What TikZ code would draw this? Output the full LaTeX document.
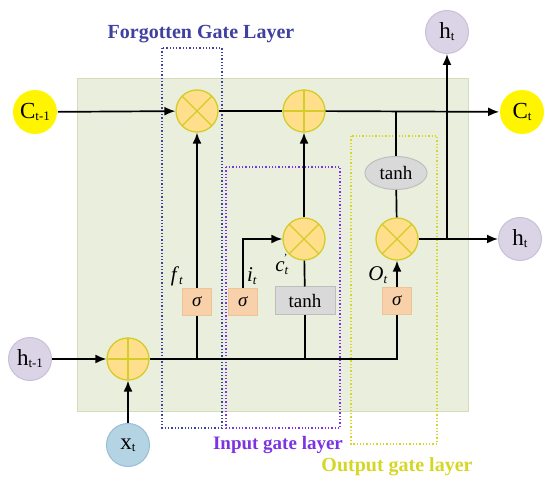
\documentclass[tikz,border=0pt]{standalone}
\usepackage{fontspec}
\setmainfont{Liberation Serif}
\usetikzlibrary{arrows.meta,positioning,shapes.geometric}
\definecolor{gatefill}{RGB}{255,222,140}
\definecolor{gateline}{RGB}{212,204,40}
\definecolor{cellfill}{RGB}{255,245,0}
\definecolor{hfill}{RGB}{218,212,230}
\definecolor{hline}{RGB}{200,192,216}
\definecolor{xfill}{RGB}{180,212,228}
\definecolor{xline}{RGB}{150,190,214}
\definecolor{bgfill}{RGB}{233,238,221}
\definecolor{bgline}{RGB}{212,220,186}
\definecolor{sigfill}{RGB}{248,208,170}
\definecolor{sigline}{RGB}{236,196,150}
\definecolor{tanhfill}{RGB}{217,217,217}
\definecolor{tanhline}{RGB}{190,190,190}
\definecolor{forgetcol}{RGB}{64,64,160}
\definecolor{inputcol}{RGB}{124,52,226}
\definecolor{outputcol}{RGB}{214,214,40}
\newcommand{\lowidx}[1]{\raisebox{-2pt}{\fontsize{13}{13}\selectfont #1}}
\newcommand{\gatelbl}[2]{\textit{#1}\raisebox{-3pt}{\fontsize{13}{13}\selectfont\textit{#2}}}

\begin{document}
\begin{tikzpicture}[x=1pt, y=-1pt, >={Latex[length=11pt,width=9pt]}, line width=1.7pt,
	mult/.style={circle, draw=gateline, fill=gatefill, line width=1.3pt, minimum size=42pt, inner sep=0pt,
		path picture={\draw[gateline, line width=1.3pt] (path picture bounding box.north west) -- (path picture bounding box.south east)
			(path picture bounding box.north east) -- (path picture bounding box.south west);}},
	plus/.style={circle, draw=gateline, fill=gatefill, line width=1.3pt, minimum size=42pt, inner sep=0pt,
		path picture={\draw[gateline, line width=1.3pt] (path picture bounding box.north) -- (path picture bounding box.south)
			(path picture bounding box.west) -- (path picture bounding box.east);}},
	cellnode/.style={circle, fill=cellfill, minimum size=44pt, inner sep=0pt, font=\fontsize{23}{23}\selectfont},
	hnode/.style={circle, draw=hline, fill=hfill, line width=1pt, minimum size=43pt, inner sep=0pt, font=\fontsize{23}{23}\selectfont},
	xnode/.style={circle, draw=xline, fill=xfill, line width=1pt, minimum size=43pt, inner sep=0pt, font=\fontsize{23}{23}\selectfont},
	sigbox/.style={rectangle, draw=sigline, fill=sigfill, line width=1pt, minimum width=29pt, minimum height=27pt, inner sep=0pt, font=\fontsize{19}{19}\selectfont},
	tanhbox/.style={rectangle, draw=tanhline, fill=tanhfill, line width=1pt, minimum width=60pt, minimum height=28pt, inner sep=0pt, font=\fontsize{19}{19}\selectfont},
	tanhell/.style={ellipse, draw=tanhline, fill=tanhfill, line width=1pt, minimum width=62pt, minimum height=33pt, inner sep=0pt, font=\fontsize{19}{19}\selectfont},
	layerbox/.style={dotted, line width=1.3pt},
	lbl/.style={font=\fontsize{21}{21}\selectfont, inner sep=1pt}]
		\useasboundingbox (0,0) rectangle (550,484);
		\fill[bgfill] (77,79) rectangle (468,412);
		\draw[bgline, line width=1pt] (77,79) rectangle (468,412);
		
		% layer frames
		\draw[layerbox, forgetcol] (162,48) rectangle (222,428);
		\draw[layerbox, inputcol] (226,167) rectangle (340,428);
		\draw[layerbox, outputcol] (351,136) rectangle (437,444);
		\node (ftitle) at (201,34) {\fontsize{20}{20}\selectfont\bfseries\textcolor{forgetcol}{Forgotten Gate Layer}};
		\node (ititle) at (278,445) {\fontsize{19}{19}\selectfont\bfseries\textcolor{inputcol}{Input gate layer}};
		\node (otitle) at (397,467) {\fontsize{20}{20}\selectfont\bfseries\textcolor{outputcol}{Output gate layer}};
		
		% cell state line
		\node[cellnode] (cprev) at (35,112) {C\lowidx{t-1}};
		\node[mult] (fgate) at (197,111) {};
		\node[plus] (agate) at (304,111) {};
		\node[cellnode] (cnext) at (522,112) {C\lowidx{t}};
		\node[hnode] (htop) at (447,32) {h\lowidx{t}};
		
		% output part
		\node[tanhell] (tanhc) at (396,173) {tanh};
		\node[mult] (ogate) at (397,239) {};
		\node[hnode] (hright) at (520,239) {h\lowidx{t}};
		
		% input part
		\node[mult] (igate) at (304,239) {};
		\node[sigbox] (sigf) at (197,302) {\textit{σ}};
		\node[sigbox] (sigi) at (243,302) {\textit{σ}};
		\node[tanhbox] (tanhi) at (305,301) {tanh};
		\node[sigbox] (sigo) at (397,301) {\textit{σ}};
		
		\node[hnode] (hprev) at (30,359) {h\lowidx{t-1}};
		\node[plus] (xgate) at (128,359) {};
		\node[xnode] (xt) at (128,445) {x\lowidx{t}};
		
		\node[lbl] (flbl) at (177,276) {\gatelbl{f}{t}};
		\node[lbl] (ilbl) at (252,276) {\gatelbl{i}{t}};
		\node[lbl] (clbl) at (282,268) {\textit{c}\raisebox{-3pt}{\fontsize{13}{13}\selectfont\textit{t}}};
		\node[font=\fontsize{11}{11}\selectfont, inner sep=0pt] (cprime) at (285,258) {\textit{'}};
		\node[lbl] (olbl) at (378,275) {\gatelbl{O}{t}};
		
		\coordinate (cbr) at (396,111);
		\coordinate (hbr) at (447,239);
		\coordinate (fj) at (197,359);
		\coordinate (tj) at (305,359);
		\coordinate (oj) at (397,359);
		
		\draw[->] (cprev) -- (fgate);
		\draw (fgate) -- (agate);
		\draw[->] (agate) -- (cnext);
		\draw (cbr) -- (tanhc);
		\draw (tanhc) -- (ogate);
		\draw[->] (ogate) -- (hright);
		\draw[->] (hbr) -- (htop);
		
		\draw[->] (sigf) -- (fgate);
		\draw[->] (sigi) |- (igate);
		\draw (tanhi) -- (igate);
		\draw[->] (igate) -- (agate);
		\draw[->] (sigo) -- (ogate);
		
		\draw[->] (hprev) -- (xgate);
		\draw[->] (xt) -- (xgate);
		\draw (xgate) -- (oj) -- (sigo);
		\draw (fj) -- (sigf);
		\draw (tj) -- (tanhi);
	\end{tikzpicture}
\end{document}
